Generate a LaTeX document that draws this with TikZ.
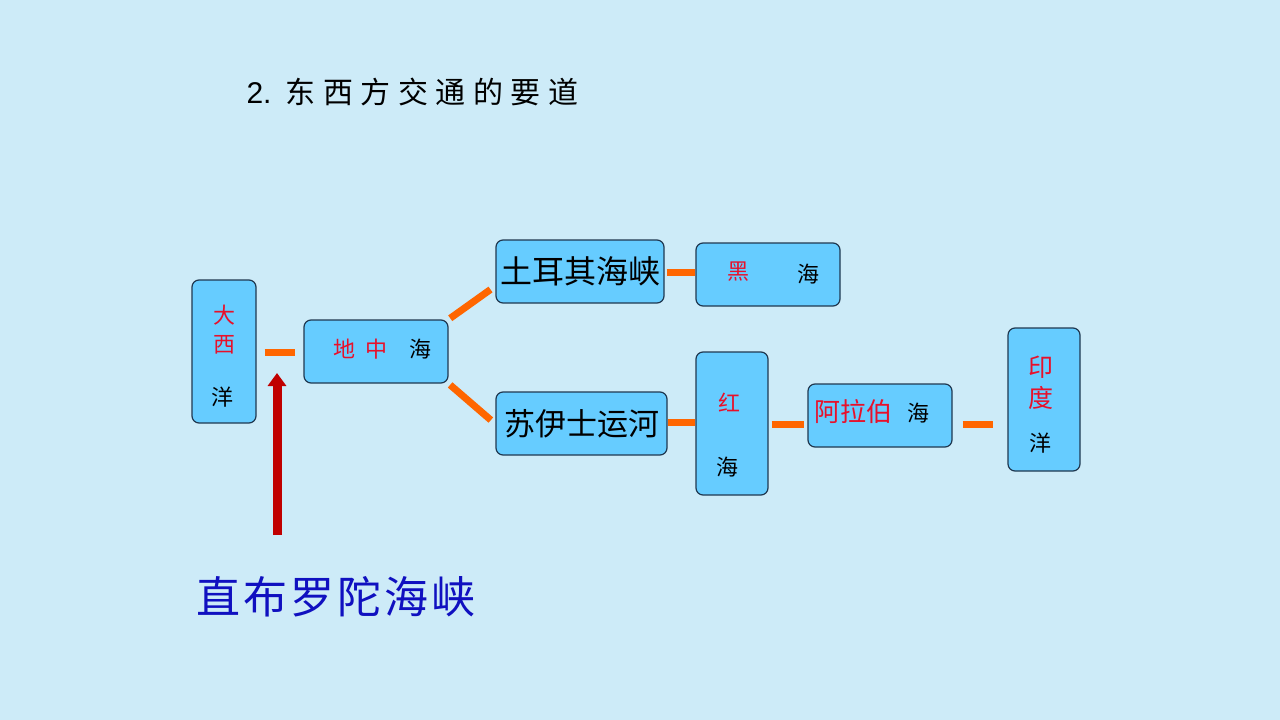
\documentclass[tikz,border=0pt]{standalone}
\usepackage{fontspec}
\setmainfont{Liberation Sans}
\newfontfamily\cjk{Noto Sans CJK SC}
\usetikzlibrary{arrows.meta}
\definecolor{bgblue}{HTML}{CDEBF8}
\definecolor{boxblue}{HTML}{66CCFF}
\definecolor{boxline}{HTML}{203850}
\definecolor{linkorange}{HTML}{FF6600}
\definecolor{hanred}{HTML}{E8102A}
\definecolor{darkblue}{HTML}{1010C0}
\definecolor{arrowred}{HTML}{C00000}
\tikzset{
  seabox/.style={draw=boxline, line width=1.2pt, fill=boxblue, rounded corners=7pt, inner sep=0pt, align=center, font=\cjk},
  link/.style={draw=linkorange, line width=7pt, shorten <=3pt, shorten >=3pt},
  lbl/.style={inner sep=0pt, font=\cjk\fontsize{22}{26}\selectfont},
}
\begin{document}
\begin{tikzpicture}[x=1pt,y=-1pt]
\useasboundingbox (0,0) rectangle (1280,720);
\fill[bgblue] (0,0) rectangle (1280,720);

\node[anchor=west, font=\fontsize{30}{32}\selectfont] (title) at (243,92)
  {2.\hspace{14pt}{\cjk 东\hspace{7.5pt}西\hspace{7.5pt}方\hspace{7.5pt}交\hspace{7.5pt}通\hspace{7.5pt}的\hspace{7.5pt}要\hspace{7.5pt}道}};

% boxes
\node[seabox, minimum width=64pt, minimum height=143pt] (atl) at (224,351.5) {};
\node[lbl, text=hanred] (atl1) at (224,315) {大};
\node[lbl, text=hanred] (atl2) at (224,345) {西};
\node[lbl] (atl3) at (222,397) {洋};

\node[seabox, minimum width=144pt, minimum height=63pt] (med) at (376,351.5) {};
\node[lbl, text=hanred] (med1) at (344,349) {地};
\node[lbl, text=hanred] (med2) at (376,349) {中};
\node[lbl] (med3) at (420,349) {海};

\node[seabox, minimum width=168pt, minimum height=63pt, font=\cjk\fontsize{32}{34}\selectfont] (tur) at (580,271.5)
  {土耳其海峡};

\node[seabox, minimum width=144pt, minimum height=63pt] (blk) at (768,274.5) {};
\node[lbl, text=hanred] (blk1) at (738,272) {黑};
\node[lbl] (blk2) at (808,274) {海};

\node[seabox, minimum width=171pt, minimum height=63pt, font=\cjk\fontsize{31}{34}\selectfont] (suez) at (581.5,423.5)
  {苏伊士运河};

\node[seabox, minimum width=72pt, minimum height=143pt] (red) at (732,423.5) {};
\node[lbl, text=hanred] (red1) at (729,403) {红};
\node[lbl] (red2) at (727,467) {海};

\node[seabox, minimum width=144pt, minimum height=63pt] (arab) at (880,415.5) {};
\node[lbl, text=hanred, font=\cjk\fontsize{26}{28}\selectfont, anchor=west] (arab1) at (814,412) {阿拉伯};
\node[lbl, anchor=west] (arab2) at (907,413) {海};

\node[seabox, minimum width=72pt, minimum height=143pt] (ind) at (1044,399.5) {};
\node[lbl, text=hanred, font=\cjk\fontsize{25}{28}\selectfont] (ind1) at (1041,367) {印};
\node[lbl, text=hanred, font=\cjk\fontsize{25}{28}\selectfont] (ind2) at (1041,398) {度};
\node[lbl] (ind3) at (1040,443) {洋};

% connectors
\draw[link, shorten <=8pt, shorten >=8pt] (atl.east |- 0,352) -- (med.west |- 0,352);
\draw[link, shorten <=2pt, shorten >=6pt] (med.north east) -- (tur.south west |- 0,286);
\draw[link, shorten <=2pt, shorten >=6pt] (med.south east) -- (suez.north west |- 0,424);
\draw[link, shorten <=2pt, shorten >=0pt] (tur.east |- 0,272) -- (blk.west |- 0,272);
\draw[link, shorten <=0pt, shorten >=0pt] (suez.east |- 0,422) -- (red.west |- 0,422);
\draw[link] (red.east |- 0,424) -- (arab.west |- 0,424);
\draw[link, shorten <=10pt, shorten >=14pt] (arab.east |- 0,424) -- (ind.west |- 0,424);

\node[anchor=west, text=darkblue, font=\cjk\fontsize{44}{48}\selectfont] (gib) at (193,597)
  {直\hspace{3pt}布\hspace{3pt}罗\hspace{3pt}陀\hspace{3pt}海\hspace{3pt}峡};
\coordinate (arrtail) at (277,535);
\coordinate (arrhead) at (277,373);
\draw[arrowred, line width=9pt, -{Triangle[width=18pt,length=13pt]}] (arrtail) -- (arrhead);
\end{tikzpicture}
\end{document}
